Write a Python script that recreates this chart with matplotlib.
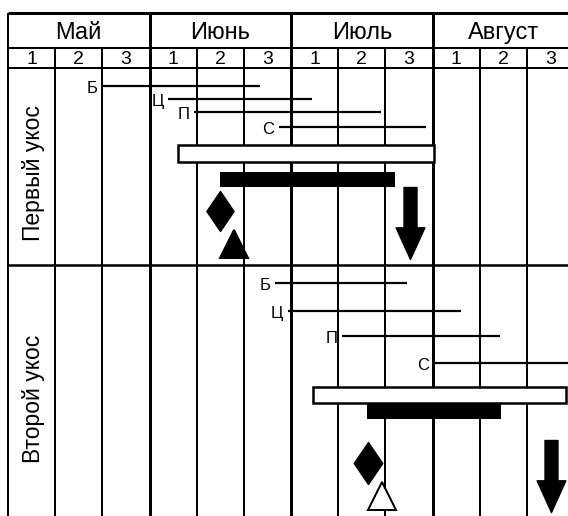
import numpy as np
import matplotlib
matplotlib.use('Agg')
import matplotlib.pyplot as plt
from matplotlib.path import Path

plt.rcParams['font.family'] = ['Liberation Sans', 'DejaVu Sans']

# data (time in decades from 1 May; 3 decades per month)
months = ['Май', 'Июнь', 'Июль', 'Август']
decades = ['1', '2', '3']
phases = ['Б', 'Ц', 'П', 'С']
cut_names = ['Первый укос', 'Второй укос']

cut1_start = [2.0, 3.4, 3.95, 5.75]
cut1_end = [5.35, 6.45, 7.9, 8.85]
cut1_white = [3.6, 9.02]
cut1_black = [4.5, 8.2]
cut1_diamond = 4.5
cut1_triangle = 4.8
cut1_arrow = 8.52

cut2_start = [5.66, 5.93, 7.08, 9.03]
cut2_end = [8.46, 9.6, 10.43, 12.0]
cut2_white = [6.46, 11.83]
cut2_black = [7.6, 10.45]
cut2_diamond = 7.62
cut2_triangle = 7.93
cut2_arrow = 11.51

# layout (pixel rows)
DEC = 47.18
X0 = 8
W, H = 568, 516

fig = plt.figure(figsize=(W / 100, H / 100), dpi=100)
ax = fig.add_axes([0, 0, 1, 1])
ax.set_xlim(-X0 / DEC, (W - X0) / DEC)
ax.set_ylim(H, 0)
ax.axis('off')

def px(p):
	return p * 72 / 100

lw = px(2)
lw_thick = px(3)

# header lines
ax.hlines([13], 0, 12.5, color='k', lw=lw_thick)
ax.hlines([48, 68], 0, 12.5, color='k', lw=lw)
ax.hlines([264.5], 0, 12.5, color='k', lw=px(2.5))

for k in range(0, 13):
	if k % 3 == 0:
		ax.vlines(k, 13, H, color='k', lw=lw_thick if k > 0 else lw)
	else:
		ax.vlines(k, 48, H, color='k', lw=lw)

for i, m in enumerate(months):
	ax.text(i * 3 + 1.5, 33, m, ha='center', va='center', fontsize=17)
	for j, d in enumerate(decades):
		ax.text(i * 3 + j + 0.5, 59, d, ha='center', va='center', fontsize=14)

diamond = Path([(0, 0.5), (0.34, 0), (0, -0.5), (-0.34, 0), (0, 0.5)],
	[Path.MOVETO, Path.LINETO, Path.LINETO, Path.LINETO, Path.CLOSEPOLY])
arrow = Path([(-0.09, 0.5), (0.09, 0.5), (0.09, -0.06), (0.2, -0.06), (0, -0.5),
	(-0.2, -0.06), (-0.09, -0.06), (-0.09, 0.5)],
	[Path.MOVETO] + [Path.LINETO] * 6 + [Path.CLOSEPOLY])

sections = [
	dict(start=cut1_start, end=cut1_end, white=cut1_white, black=cut1_black,
		diamond=cut1_diamond, triangle=cut1_triangle, arrow=cut1_arrow,
		rows=[86, 99, 112, 127], wy=153.5, wh=17, by=179.5, bh=15,
		dy=211, dh=40, ty=244, tfill='k', ay=222.5, ah=72, label_y=173),
	dict(start=cut2_start, end=cut2_end, white=cut2_white, black=cut2_black,
		diamond=cut2_diamond, triangle=cut2_triangle, arrow=cut2_arrow,
		rows=[283, 311, 336, 363], wy=395, wh=16, by=411, bh=16,
		dy=463, dh=42, ty=496, tfill='w', ay=476, ah=72, label_y=399),
]

for name, s in zip(cut_names, sections):
	ax.text(0.54, s['label_y'], name, rotation=90, ha='center', va='center', fontsize=16.5)
	ax.hlines(s['rows'], s['start'], s['end'], color='k', lw=px(2.2))
	for ph, x, y in zip(phases, s['start'], s['rows']):
		ax.annotate(ph, (x, y), xytext=(-3.5, -1.5), textcoords='offset points',
			ha='right', va='center', fontsize=12)
	ax.barh(s['wy'], s['white'][1] - s['white'][0], left=s['white'][0], height=s['wh'],
		color='w', edgecolor='k', lw=px(2.5), zorder=3)
	ax.barh(s['by'], s['black'][1] - s['black'][0], left=s['black'][0], height=s['bh'],
		color='k', edgecolor='k', lw=0, zorder=3)
	ax.plot(s['diamond'], s['dy'], marker=diamond, ms=px(s['dh']), color='k', zorder=4)
	ax.plot(s['triangle'], s['ty'], marker='^', ms=px(27), mfc=s['tfill'], mec='k',
		mew=px(2), zorder=4)
	ax.plot(s['arrow'], s['ay'], marker=arrow, ms=px(s['ah']), color='k', zorder=4)

plt.savefig('out.png', dpi=100)
